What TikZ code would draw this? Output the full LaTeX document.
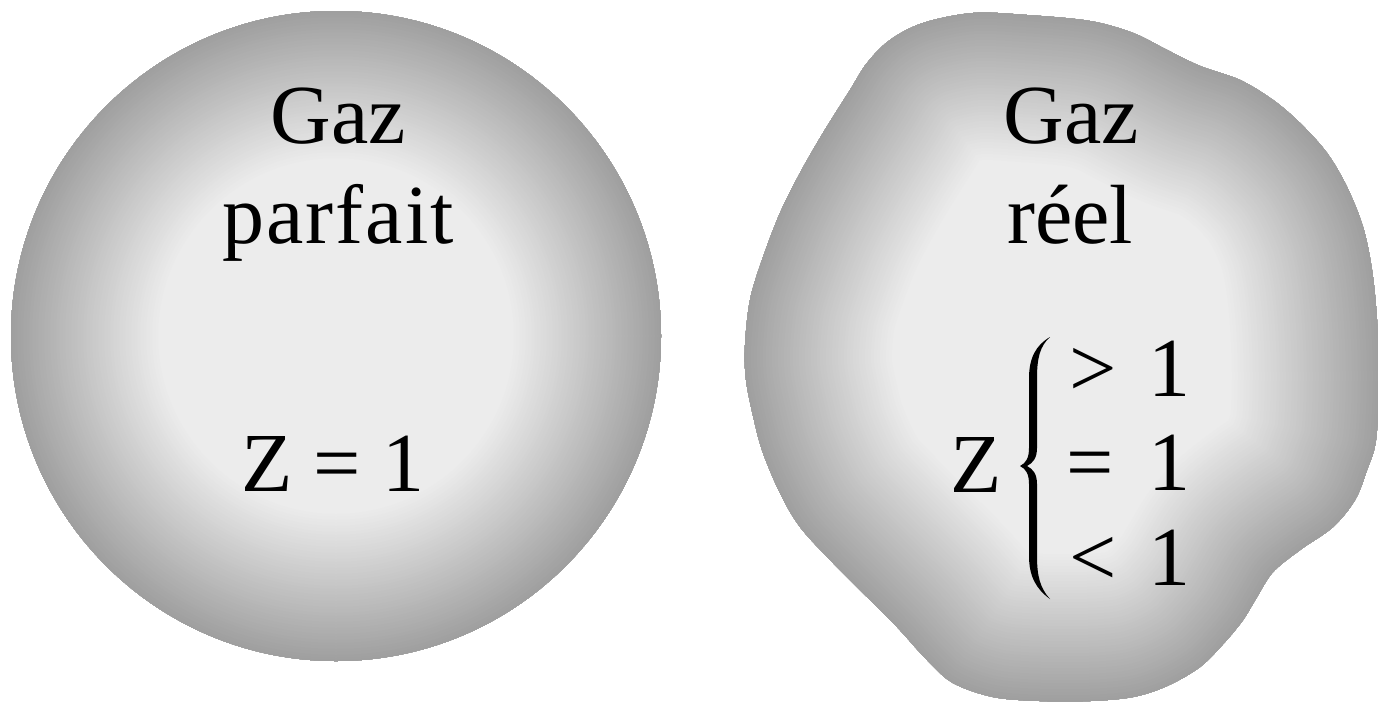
\documentclass[tikz,border=0pt]{standalone}
\usepackage{fontspec}
\setmainfont{Liberation Serif}
\newfontfamily\spacedserif[LetterSpace=2.5]{Liberation Serif}
\definecolor{ballin}{gray}{0.925}
\definecolor{ballout}{gray}{0.62}
\newcommand\shadeshape[1]{%
  \begin{scope}
    \clip #1;
    \fill[ballin] #1;
    \foreach \d in {150,147,...,3,1} {
      \pgfmathsetmacro\p{100*\d/150}
      \draw[line width=2*\d, color=ballin!\p!ballout] #1;
    }
  \end{scope}}
\tikzset{lbl/.style={inner sep=0pt, anchor=base, text=black, font=\fontsize{84}{100}\selectfont}}
\begin{document}
\begin{tikzpicture}[x=1pt,y=-1pt]
\useasboundingbox (0,0) rectangle (1378,702);
% ideal gas sphere
\shadeshape{(336,336) circle[radius=325]}
% real gas blob
\shadeshape{plot[smooth cycle, tension=0.55] coordinates {
 (973,13) (1027,15) (1090,21) (1133,33) (1167,50) (1200,66) (1240,80) (1273,100)
 (1300,123) (1327,153) (1347,187) (1363,227) (1372,270) (1377,320) (1379,380)
 (1376,440) (1367,470) (1355,500) (1333,527) (1300,550) (1273,572) (1257,597)
 (1243,620) (1225,642) (1200,667) (1167,686) (1133,697) (1090,701) (1040,701)
 (993,697) (953,683) (927,660) (897,627) (867,597) (833,563) (800,527) (780,493)
 (763,453) (754,420) (746,380) (745,345) (750,300) (762,260) (780,213) (800,173)
 (823,133) (850,90) (867,63) (890,40) (923,23)}}
% labels
\node[lbl] (g1) at (338,143) {Gaz};
\node[lbl] (p1) at (338,243) {\spacedserif parfait};
\node[lbl] (z1) at (333,491) {Z = 1};
\node[lbl] (g2) at (1071,143) {Gaz};
\node[lbl] (r2) at (1070,243) {réel};
\node[lbl, anchor=base west] (z2) at (950,492) {Z};
\node[lbl, anchor=base west] (gt) at (1069,396) {\makebox[79pt][l]{>}1};
\node[lbl, anchor=base west] (eq) at (1066,490) {\makebox[82pt][l]{=}1};
\node[lbl, anchor=base west] (lt) at (1069,585) {\makebox[79pt][l]{<}1};
% brace
\fill[black] (1050,337) .. controls (1036,345) and (1029,358) .. (1029,378)
  -- (1029,448) .. controls (1029,458) and (1026,463) .. (1020,466)
  .. controls (1026,469) and (1029,474) .. (1029,484)
  -- (1029,556) .. controls (1029,576) and (1036,589) .. (1050,599)
  .. controls (1040,588) and (1037,576) .. (1037,556)
  -- (1037,484) .. controls (1037,474) and (1033,469) .. (1027,466)
  .. controls (1033,463) and (1037,458) .. (1037,448)
  -- (1037,378) .. controls (1037,358) and (1040,346) .. (1050,337) -- cycle;
\end{tikzpicture}
\end{document}
